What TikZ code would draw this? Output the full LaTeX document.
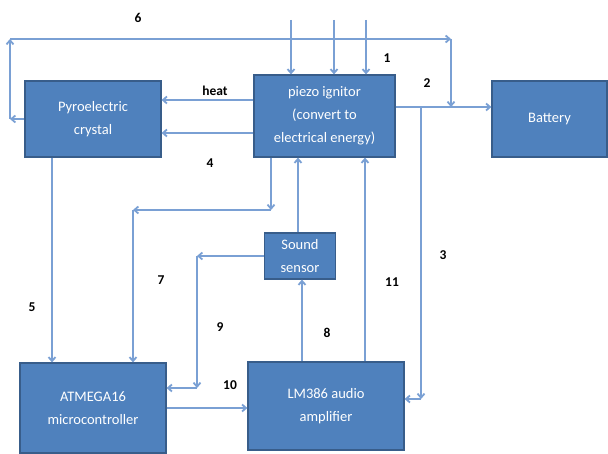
\documentclass[tikz,border=0pt]{standalone}
\usepackage{fontspec}
\setmainfont{Carlito}
\usepackage{xcolor}
\usetikzlibrary{arrows.meta, positioning, calc}
\definecolor{boxblue}{RGB}{79,129,189}
\definecolor{boxedge}{RGB}{56,93,138}
\definecolor{wire}{RGB}{122,160,212}
\tikzset{
  box/.style={rectangle, draw=boxedge, fill=boxblue, line width=1.2pt,
              text=white, align=center, font=\fontsize{14.5}{23}\selectfont,
              inner sep=2pt},
  lbl/.style={font=\bfseries\fontsize{13.5}{15}\selectfont, text=black},
  arc/.style={-{Straight Barb[length=4pt,width=7pt]}, draw=wire, line width=1.8pt}
}
\begin{document}
\begin{tikzpicture}[x=1pt, y=-1pt]
  \useasboundingbox (0,0) rectangle (608,454);
  % blocks
  \node[box, minimum width=136pt, minimum height=76pt] (pyro) at (93,119) {Pyroelectric\\crystal};
  \node[box, minimum width=141pt, minimum height=82pt] (piezo) at (324.5,116) {piezo ignitor\\(convert to\\electrical energy)};
  \node[box, minimum width=115pt, minimum height=76pt] (battery) at (549.5,119) {Battery};
  \node[box, minimum width=146pt, minimum height=90pt] (atmega) at (93,408) {ATMEGA16\\microcontroller};
  \node[box, minimum width=156pt, minimum height=88pt] (lm) at (326,406) {LM386 audio\\amplifier};
  \node[box, minimum width=71pt, minimum height=46pt, inner sep=1pt] (sound) at (300,256) {Sound\\sensor};
  % corner points
  \coordinate (ml) at (10,119);
  \coordinate (tl) at (10,39);
  \coordinate (tr) at (451,39);
  \coordinate (p2) at ([yshift=9pt]piezo.east);
  \coordinate (jr) at (451,107);
  \coordinate (j3) at (421,107);
  \coordinate (c3) at (421,399);
  \coordinate (c4a) at (271,210);
  \coordinate (c4b) at (133,210);
  \coordinate (c5) at (52,250);
  \coordinate (c8) at (302,320);
  \coordinate (cs) at (298,200);
  \coordinate (c9a) at (197,256);
  \coordinate (c9b) at (197,388);
  \coordinate (c11) at (365,300);
  \coordinate (in1) at (291,20);
  \coordinate (in2) at (334,20);
  \coordinate (in3) at (366,20);
  \coordinate (hA) at ([yshift=16pt]piezo.west);
  \coordinate (hB) at ([yshift=-17pt]piezo.west);
  % inputs
  \foreach \p in {in1,in2,in3}
    \draw[arc] (\p) -- (\p |- piezo.north);
  % loop 6
  \draw[arc] (pyro.west) -- (ml);
  \draw[arc] (ml) -- (tl);
  \draw[arc] (tl) -- (tr);
  \draw[arc] (tr) -- (jr);
  % heat and 4
  \draw[arc] (hA) -- (hA -| pyro.east);
  \draw[arc] (hB) -- (hB -| pyro.east);
  % 2 and 3
  \draw[arc] (p2) -- (p2 -| battery.west);
  \draw[arc] (j3) -- (c3);
  \draw[arc] (c3) -- (c3 -| lm.east);
  % 7
  \draw[arc] (c4a |- piezo.south) -- (c4a);
  \draw[arc] (c4a) -- (c4b);
  \draw[arc] (c4b) -- (c4b |- atmega.north);
  % 5
  \draw[arc] (c5 |- pyro.south) -- (c5 |- atmega.north);
  % 9
  \draw[arc] (sound.west) -- (c9a);
  \draw[arc] (c9a) -- (c9b);
  \draw[arc] (c9b) -- (c9b -| atmega.east);
  % 10
  \draw[arc] (atmega.east) -- (atmega.east -| lm.west);
  % 8
  \draw[arc] (c8 |- lm.north) -- (c8 |- sound.south);
  \draw[arc] (cs |- sound.north) -- (cs |- piezo.south);
  % 11
  \draw[arc] (c11 |- lm.north) -- (c11 |- piezo.south);
  % labels
  \node[lbl] (l1) at (387,58) {1};
  \node[lbl] (l2) at (427,83) {2};
  \node[lbl] (l3) at (443,255) {3};
  \node[lbl] (l4) at (210,163) {4};
  \node[lbl] (l5) at (32,307) {5};
  \node[lbl] (l6) at (138,18) {6};
  \node[lbl] (l7) at (161,280) {7};
  \node[lbl] (l8) at (327,333) {8};
  \node[lbl] (l9) at (220,327) {9};
  \node[lbl] (l10) at (230,385) {10};
  \node[lbl] (l11) at (392,282) {11};
  \node[lbl] (heat) at (215,91) {heat};
\end{tikzpicture}
\end{document}
